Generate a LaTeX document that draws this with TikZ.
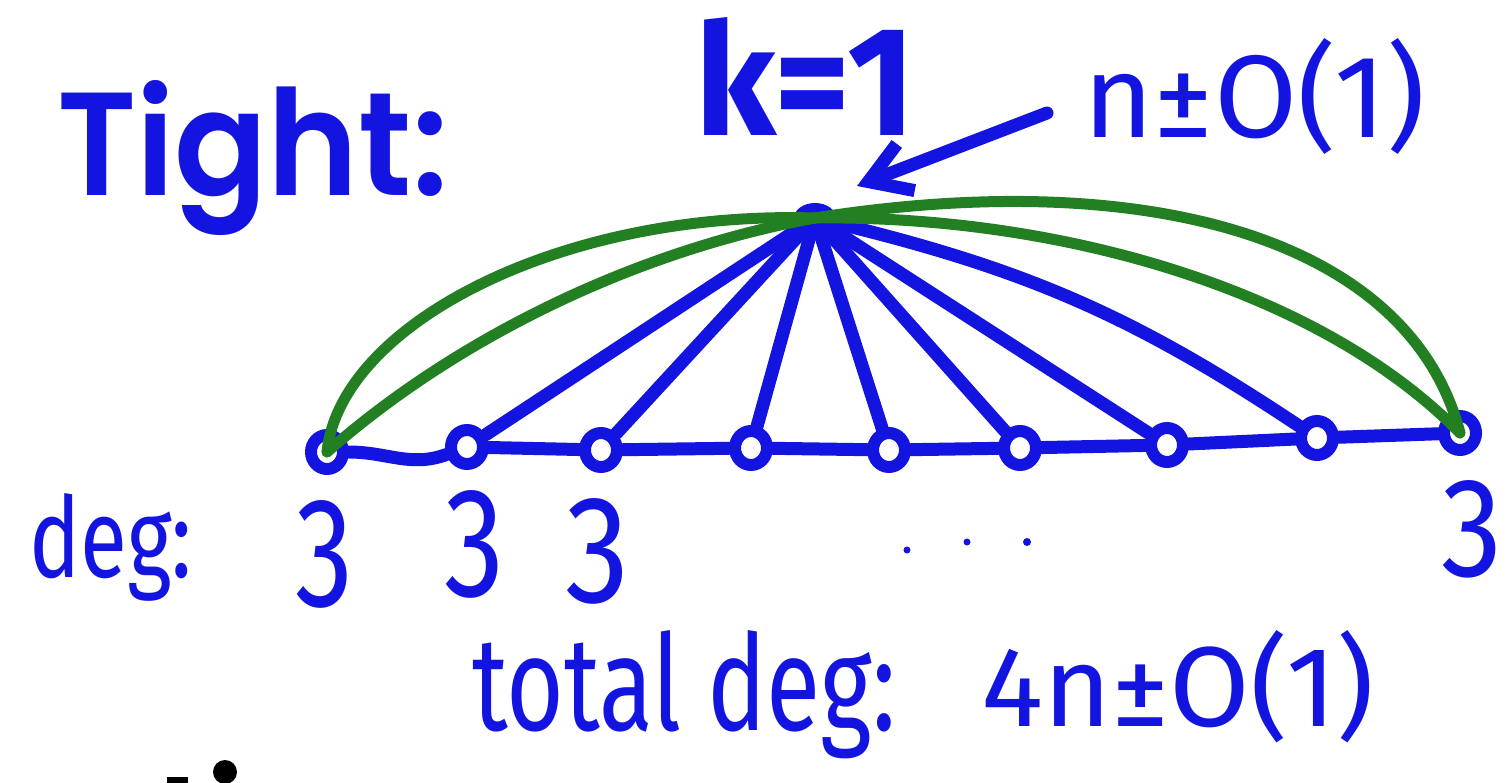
\documentclass[tikz,border=0pt]{standalone}
\usepackage{fontspec}
\setmainfont{Poppins}
\newfontfamily\tightfont{Poppins SemiBold}
\newfontfamily\hand{Fira Sans}
\usetikzlibrary{arrows.meta,shapes.geometric}
\definecolor{pen}{RGB}{20,20,224}
\definecolor{grn}{RGB}{34,128,34}
\begin{document}
\begin{tikzpicture}[x=1pt,y=-1pt,
  vtx/.style={draw=pen, line width=12pt, ellipse, minimum width=32pt, minimum height=34pt, inner sep=0pt},
  hub/.style={fill=pen, ellipse, minimum width=42pt, minimum height=30pt, inner sep=0pt},
  edge/.style={draw=pen, line width=13pt, line cap=round, line join=round},
  gedge/.style={draw=grn, line width=11pt, line cap=round},
  txt/.style={text=pen, inner sep=0pt, anchor=base west}]
\useasboundingbox (0,0) rectangle (1512,782);
% texts
\node[txt] (tight) at (57,195) {\resizebox{391pt}{115pt}{\tightfont Tight:}};
\node[txt] (k) at (695,135) {\resizebox{220pt}{118pt}{\hand\bfseries k=1}};
\node[txt] (nO) at (1083,137) {\resizebox{342pt}{99pt}{\hand n±O(1)}};
\node[txt] (deg) at (29,577) {\resizebox{163pt}{84pt}{\hand deg:}};
\node[txt] (d1) at (295,606) {\resizebox{58pt}{106pt}{\hand 3}};
\node[txt] (d2) at (444,596) {\resizebox{60pt}{106pt}{\hand 3}};
\node[txt] (d3) at (565,602) {\resizebox{64pt}{104pt}{\hand 3}};
\node[txt] (d9) at (1441,576) {\resizebox{61pt}{96pt}{\hand 3}};
\node[txt] (tot) at (472,730) {\resizebox{424pt}{100pt}{\hand total deg:}};
\node[txt] (four) at (981,726) {\resizebox{393pt}{96pt}{\hand 4n±O(1)}};
\fill[pen] (907,550) circle (3.5pt) (967,542) circle (3.5pt) (1027,542) circle (4pt);
% vertices
\node[vtx] (n1) at (327,452) {};
\node[vtx] (n2) at (467,447) {};
\node[vtx] (n3) at (601,450) {};
\node[vtx] (n4) at (751,448) {};
\node[vtx] (n5) at (889,450) {};
\node[vtx] (n6) at (1020,448) {};
\node[vtx] (n7) at (1167,445) {};
\node[vtx] (n8) at (1317,438) {};
\node[vtx] (n9) at (1460,433) {};
\node[hub] (top) at (815,218) {};
% path along bottom
\draw[edge] (n1) to[out=0,in=200] (n2);
\draw[edge] (n2) -- (n3) -- (n4) -- (n5) -- (n6) -- (n7) -- (n8) -- (n9);
% spokes
\draw[edge] (top) -- (n2);
\draw[edge] (top) -- (n3);
\draw[edge] (top) -- (n4);
\draw[edge] (top) -- (n5);
\draw[edge] (top) -- (n6);
\draw[edge] (top) -- (n7);
\draw[edge] (top) to[bend left=10] (n8);
% arrow
\coordinate (astart) at (1047,113);
\coordinate (aend) at (857,186);
\draw[edge, -{Straight Barb[length=40pt,width=50pt]}] (astart) -- (aend);
% green
\draw[gedge] (n1.center) .. controls (340,325) and (560,210) .. (top.center);
\draw[gedge] (n1.center) .. controls (460,335) and (640,250) .. (top.center);
\draw[gedge] (n9.center) .. controls (1410,240) and (1150,165) .. (top.center);
\draw[gedge] (n9.center) .. controls (1320,290) and (1060,215) .. (top.center);
% cut-off black text at bottom
\begin{scope}
\clip (0,0) rectangle (1512,782);
\fill[black] (225,772) circle (12pt);
\fill[black] (167,777) rectangle (188,785);
\end{scope}
\end{tikzpicture}
\end{document}
